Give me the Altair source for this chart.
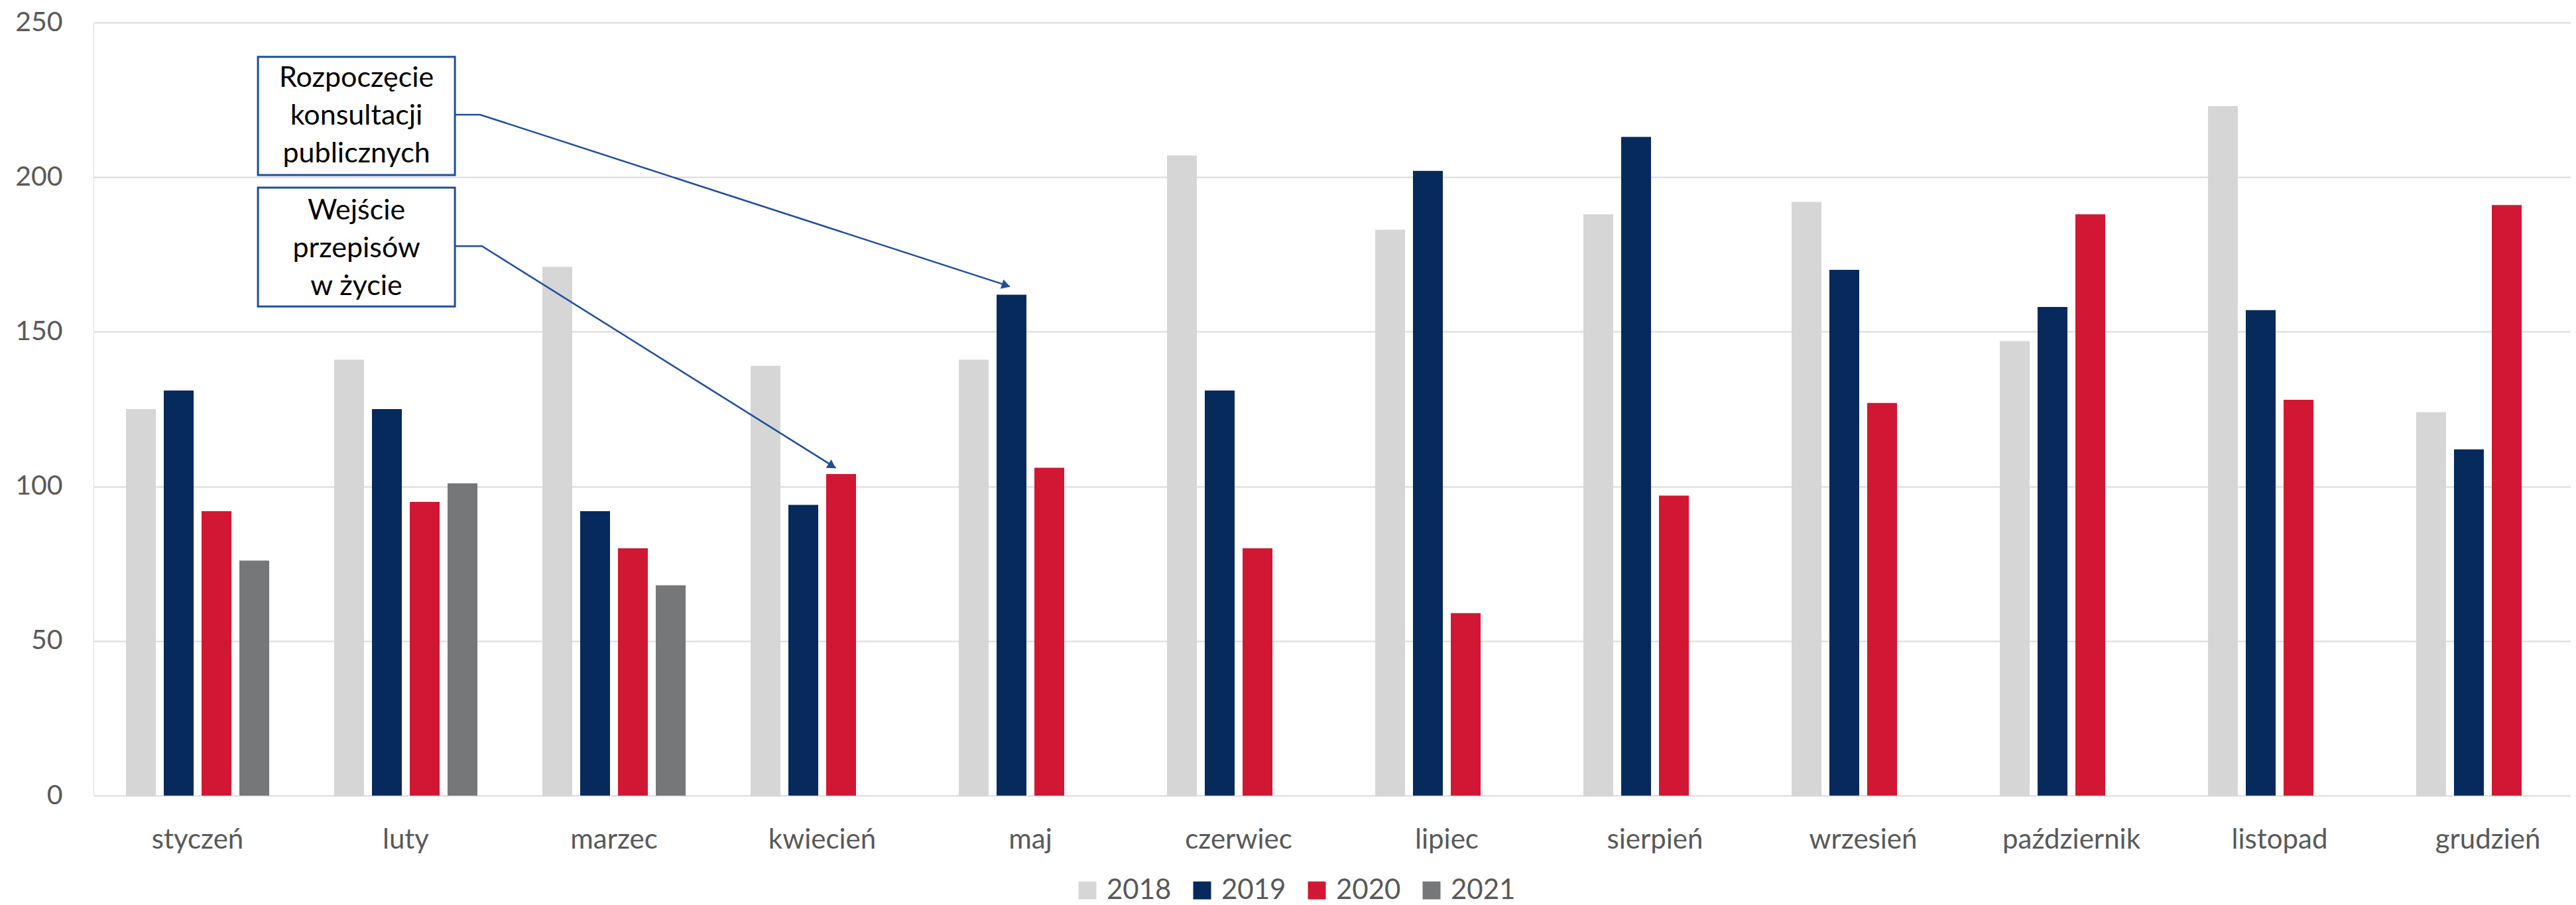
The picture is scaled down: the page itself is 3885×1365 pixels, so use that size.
import altair as alt
import pandas as pd

months = ["styczeń", "luty", "marzec", "kwiecień", "maj", "czerwiec", "lipiec",
          "sierpień", "wrzesień", "październik", "listopad", "grudzień"]
years = ["2018", "2019", "2020", "2021"]
v2018 = [125, 141, 171, 139, 141, 207, 183, 188, 192, 147, 223, 124]
v2019 = [131, 125, 92, 94, 162, 131, 202, 213, 170, 158, 157, 112]
v2020 = [92, 95, 80, 104, 106, 80, 59, 97, 127, 188, 128, 191]
v2021 = [76, 101, 68]
colors = ["#D6D6D6", "#072A5C", "#D21734", "#767779"]
y_ticks = [0, 50, 100, 150, 200, 250]

# annotation boxes (x in month-index units, y in value units)
box_lines = ["Rozpoczęcie\nkonsultacji\npublicznych", "Wejście\nprzepisów\nw życie"]
box_x0 = [0.79, 0.79]
box_x1 = [1.736, 1.736]
box_top = [238.9, 196.6]
box_bot = [200.7, 158.2]
box_text_y = [232.0, 189.1]
# connector paths
arrow_id = [0, 0, 0, 1, 1, 1]
arrow_ord = [0, 1, 2, 0, 1, 2]
arrow_x = [1.736, 1.857, 4.40, 1.736, 1.866, 3.565]
arrow_y = [220.2, 220.2, 164.7, 177.7, 177.7, 106.0]
head_x = [4.383, 3.548]
head_y = [165.0, 106.6]
head_angle = [108, 122]

rows = []
for series, vals in zip(years, [v2018, v2019, v2020, v2021]):
    for m, v in zip(months, vals):
        rows.append({"month": m, "year": series, "value": v})
df = pd.DataFrame(rows)

boxes = pd.DataFrame({"label": box_lines, "x0": box_x0, "x1": box_x1,
                      "top": box_top, "bot": box_bot, "ty": box_text_y,
                      "tx": [(a + b) / 2 for a, b in zip(box_x0, box_x1)]})
arrows = pd.DataFrame({"id": arrow_id, "o": arrow_ord, "x": arrow_x, "y": arrow_y})
heads = pd.DataFrame({"x": head_x, "y": head_y, "angle": head_angle})

FONT = "Lato"
LABEL_COLOR = "#595959"
BLUE = "#1F4E9B"
RANGE = [0, 3768]

yscale = alt.Scale(domain=[0, 250], nice=False)
qx = alt.Scale(domain=[0, 12], range=RANGE, nice=False, zero=False)

bars = alt.Chart(df).mark_bar().encode(
    x=alt.X("month:N", sort=months, title=None,
            scale=alt.Scale(range=RANGE, paddingInner=0.312, paddingOuter=0.156),
            axis=alt.Axis(labelAngle=0, domain=False, ticks=False, labelPadding=46,
                          labelLimit=0, grid=False,
                          labelFontSize=42, labelFont=FONT, labelColor=LABEL_COLOR)),
    xOffset=alt.XOffset("year:N", sort=years,
                        scale=alt.Scale(paddingInner=0.2105, paddingOuter=0)),
    y=alt.Y("value:Q", scale=yscale, title=None,
            axis=alt.Axis(values=y_ticks, domain=False, ticks=False, tickSize=0,
                          labelPadding=47, labelFontSize=41, labelFont=FONT,
                          labelColor=LABEL_COLOR, grid=True,
                          gridColor="#D9D9D9", gridWidth=2)),
    color=alt.Color("year:N", scale=alt.Scale(domain=years, range=colors),
                    legend=alt.Legend(title=None, orient="none", legendX=1478, legendY=1288,
                                      direction="horizontal", symbolType="square",
                                      symbolSize=729, symbolStrokeWidth=0,
                                      labelFontSize=42, labelFont=FONT,
                                      labelColor=LABEL_COLOR, labelOffset=8,
                                      columnPadding=25, padding=0)),
)

lines = alt.Chart(arrows).mark_line(color=BLUE, strokeWidth=2.5).encode(
    x=alt.X("x:Q", scale=qx, axis=None),
    y=alt.Y("y:Q", scale=yscale, title=None),
    detail="id:N",
    order="o:Q",
)

arrowheads = alt.Chart(heads).mark_point(shape="triangle-up", filled=True, color=BLUE,
                                         size=220, opacity=1).encode(
    x=alt.X("x:Q", scale=qx, axis=None),
    y=alt.Y("y:Q", scale=yscale, title=None),
    angle=alt.Angle("angle:Q", scale=None),
)

rects = alt.Chart(boxes).mark_rect(fill="white", stroke=BLUE, strokeWidth=3).encode(
    x=alt.X("x0:Q", scale=qx, axis=None),
    x2="x1:Q",
    y=alt.Y("top:Q", scale=yscale, title=None),
    y2="bot:Q",
)

texts = alt.Chart(boxes).mark_text(lineBreak="\n", lineHeight=57, fontSize=43, font=FONT,
                                   color="black", align="center", baseline="middle").encode(
    x=alt.X("tx:Q", scale=qx, axis=None),
    y=alt.Y("ty:Q", scale=yscale, title=None),
    text="label:N",
)

chart = alt.layer(bars, lines, arrowheads, rects, texts).resolve_scale(
    x="independent"
).properties(
    width=3736, height=1166,
    padding={"left": 133, "top": 26, "right": 0, "bottom": 170},
    autosize=alt.AutoSizeParams(type="none"),
).configure_view(stroke=None).configure(background="white")

chart.save("out.html", embed_options={"renderer": "svg", "actions": False})
